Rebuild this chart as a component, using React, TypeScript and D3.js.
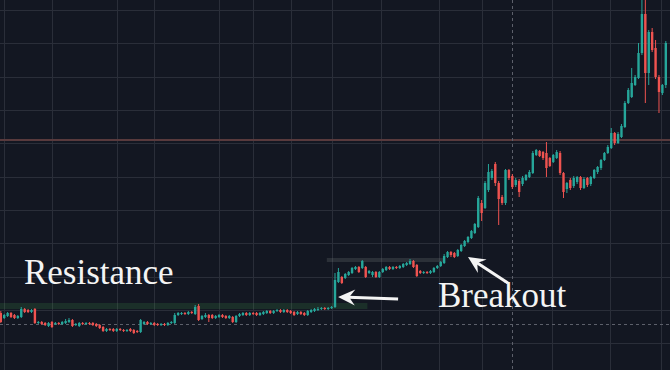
import React, { useEffect, useRef } from 'react';
import * as d3 from 'd3';

// OHLC, one entry per daily candle
const opens = [
  4910, 4760, 4820, 4910, 4850, 4760, 4790, 5030, 5000, 4940,
  5030, 4610, 4640, 4610, 4520, 4640, 4580, 4610, 4580, 4610,
  4640, 4700, 4550, 4520, 4610, 4580, 4610, 4610, 4580, 4550,
  4490, 4370, 4430, 4430, 4370, 4430, 4400, 4370, 4430, 4400,
  4370, 4340, 4580, 4640, 4580, 4610, 4580, 4550, 4580, 4550,
  4610, 4610, 4850, 4880, 4910, 4880, 4940, 4880, 5120, 4730,
  4790, 4850, 4850, 4760, 4790, 4850, 4820, 4760, 4790, 4640,
  4820, 4850, 4910, 4850, 4910, 4910, 4850, 4880, 4910, 4970,
  4910, 4970, 5000, 4940, 5000, 4970, 4940, 4880, 4940, 4910,
  4850, 4940, 4970, 5000, 5030, 5060, 5030, 5060, 5090, 5840,
  5990, 5960, 6050, 6110, 6230, 6290, 6260, 6290, 6110, 6050,
  6140, 5990, 6140, 6200, 6290, 6230, 6290, 6260, 6290, 6350,
  6380, 6470, 6350, 6170, 6110, 6140, 6110, 6140, 6260, 6320,
  6410, 6590, 6740, 6710, 6620, 6770, 6920, 7040, 7160, 7310,
  7490, 8210, 8060, 8600, 8960, 9380, 8810, 8390, 8210, 9200,
  9020, 8750, 8870, 8780, 8900, 8990, 9110, 9650, 9770, 9740,
  9710, 9560, 9440, 9560, 9710, 9110, 8630, 8900, 8720, 8840,
  8990, 8660, 8960, 8780, 8960, 9140, 9260, 9500, 9710, 9860,
  10310, 10010, 10190, 10490, 11210, 11390, 11750, 11960, 12710, 13880,
  12110, 13340, 12860, 11990, 11510, 11750,
];
const highs = [
  4970, 4880, 4940, 4940, 4880, 4850, 5090, 5060, 5030, 5030,
  5060, 4670, 4670, 4640, 4640, 4670, 4640, 4640, 4670, 4730,
  4760, 4730, 4610, 4640, 4640, 4640, 4640, 4640, 4610, 4580,
  4520, 4460, 4460, 4460, 4460, 4460, 4430, 4430, 4460, 4430,
  4400, 4730, 4670, 4670, 4640, 4640, 4610, 4610, 4610, 4640,
  4670, 4910, 4940, 4940, 4940, 4970, 4970, 5150, 5180, 4850,
  4910, 4880, 4880, 4850, 4880, 4880, 4850, 4850, 4820, 4850,
  4910, 4940, 4940, 4940, 4940, 4940, 4940, 4970, 5000, 5000,
  5000, 5030, 5030, 5030, 5030, 5000, 4970, 4970, 4970, 4940,
  5000, 5030, 5060, 5090, 5090, 5090, 5090, 5120, 6110, 6260,
  6020, 6110, 6170, 6290, 6320, 6320, 6500, 6320, 6200, 6170,
  6170, 6170, 6260, 6320, 6320, 6320, 6320, 6350, 6410, 6440,
  6530, 6500, 6380, 6200, 6170, 6170, 6200, 6290, 6350, 6470,
  6680, 6770, 6770, 6740, 6830, 6980, 7100, 7220, 7400, 7610,
  8420, 8300, 8870, 9380, 9230, 9440, 8870, 8450, 9230, 9230,
  9080, 8960, 8930, 9020, 9080, 9200, 9770, 9830, 9800, 9770,
  10040, 9590, 9680, 9800, 9770, 9140, 8840, 8960, 9020, 9020,
  9020, 8990, 8990, 9020, 9230, 9320, 9530, 9740, 9950, 10460,
  10340, 10340, 10580, 11270, 11660, 12260, 12050, 13010, 14450, 14450,
  13400, 13460, 13100, 12050, 11780, 13070,
];
const lows = [
  4610, 4730, 4790, 4760, 4730, 4730, 4760, 4910, 4910, 4910,
  4580, 4580, 4550, 4520, 4490, 4460, 4550, 4550, 4550, 4580,
  4610, 4490, 4520, 4490, 4550, 4550, 4550, 4520, 4490, 4430,
  4340, 4340, 4370, 4340, 4340, 4370, 4340, 4340, 4340, 4280,
  4310, 4310, 4550, 4550, 4550, 4520, 4520, 4520, 4520, 4520,
  4580, 4580, 4820, 4850, 4850, 4850, 4880, 4850, 4670, 4700,
  4760, 4640, 4730, 4730, 4760, 4760, 4730, 4730, 4610, 4610,
  4790, 4820, 4820, 4820, 4850, 4820, 4820, 4850, 4880, 4880,
  4880, 4940, 4910, 4910, 4910, 4880, 4820, 4850, 4850, 4820,
  4820, 4910, 4940, 4970, 5000, 5000, 5000, 5030, 5060, 5810,
  5780, 5930, 6020, 6080, 6200, 6110, 6230, 5960, 6080, 5990,
  5960, 5960, 6110, 6170, 6200, 6200, 6230, 6230, 6260, 6320,
  6350, 6260, 5990, 6080, 6080, 6080, 6080, 6110, 6230, 6290,
  6380, 6560, 6590, 6560, 6590, 6740, 6890, 7010, 7130, 7280,
  7460, 7670, 8030, 8540, 8900, 8720, 7550, 8150, 8150, 8900,
  8630, 8690, 8390, 8720, 8870, 8960, 9080, 9620, 9590, 9500,
  8990, 9290, 9410, 9530, 9050, 8360, 8510, 8600, 8660, 8780,
  8600, 8630, 8690, 8720, 8930, 9080, 9200, 9470, 9680, 9830,
  9950, 9980, 10160, 10460, 11180, 11360, 11720, 11930, 12650, 11210,
  11750, 12740, 11930, 10910, 11450, 11660,
];
const closes = [
  4640, 4850, 4910, 4790, 4760, 4820, 5030, 4940, 4940, 5000,
  4610, 4640, 4580, 4550, 4610, 4490, 4610, 4580, 4640, 4670,
  4700, 4520, 4580, 4610, 4580, 4610, 4580, 4550, 4520, 4460,
  4370, 4430, 4400, 4370, 4430, 4400, 4370, 4400, 4370, 4310,
  4340, 4700, 4640, 4580, 4610, 4550, 4550, 4580, 4550, 4610,
  4640, 4850, 4910, 4910, 4880, 4940, 4910, 5090, 4700, 4820,
  4850, 4760, 4760, 4820, 4850, 4790, 4760, 4820, 4640, 4820,
  4880, 4910, 4850, 4910, 4880, 4850, 4910, 4940, 4970, 4910,
  4970, 5000, 4940, 5000, 4940, 4910, 4850, 4940, 4880, 4850,
  4970, 5000, 5030, 5030, 5060, 5030, 5060, 5090, 5900, 6140,
  5810, 6080, 6140, 6260, 6290, 6140, 6470, 5990, 6170, 6140,
  5990, 6140, 6230, 6290, 6230, 6290, 6260, 6320, 6380, 6410,
  6470, 6290, 6020, 6110, 6140, 6110, 6170, 6260, 6320, 6440,
  6620, 6740, 6650, 6590, 6800, 6950, 7070, 7190, 7370, 7580,
  8360, 7910, 8810, 9140, 9170, 8810, 8330, 8210, 9200, 8960,
  8690, 8900, 8540, 8960, 9050, 9140, 9710, 9800, 9620, 9560,
  9260, 9320, 9650, 9740, 9110, 8540, 8810, 8660, 8960, 8990,
  8660, 8930, 8750, 8990, 9200, 9290, 9500, 9710, 9890, 10310,
  10010, 10280, 10520, 11210, 11600, 11810, 11990, 12710, 13880, 12110,
  13340, 12800, 11990, 11540, 11750, 13010,
];

const priceTicks = [4000, 5000, 6000, 7000, 8000, 9000, 10000, 11000, 12000, 13000, 14000];
// time grid lines, in candle index units
const timeTicks = [1, 15, 34, 45, 64, 74, 85, 97, 111.5, 128.5, 141, 161.5, 178.5, 193.5];

const crossIndex = 150;
const crossPrice = 4580;
const levelPrice = 10100;

// support / resistance boxes
const zoneStart = [-1, 95.6];
const zoneEnd = [107.5, 129.7];
const zoneLow = [5030, 6440];
const zoneHigh = [5210, 6560];

const labels = ['Resistance', 'Breakout'];
const labelIndex = [6.8, 128.2];
const labelPrice = [5780, 5100];

const arrowTailIndex = [116.5, 148.7];
const arrowTailPrice = [5330, 5810];
const arrowTipIndex = [98.9, 137];
const arrowTipPrice = [5390, 6590];

const W = 670;
const H = 370;

export default function App() {
  const svgRef = useRef<SVGSVGElement>(null);

  useEffect(() => {
    const svg = d3.select(svgRef.current);
    svg.selectAll('*').remove();

    const x = d3.scaleLinear().domain([0, closes.length - 1]).range([0.8, 665.8]);
    const y = d3.scaleLinear().domain([3200, 14300]).range([H, 0]);

    svg.append('rect').attr('width', W).attr('height', H).attr('fill', '#131722');

    // grid
    svg.append('g')
      .selectAll('line')
      .data(priceTicks)
      .join('line')
      .attr('x1', 0)
      .attr('x2', W)
      .attr('y1', d => Math.round(y(d)) + 0.5)
      .attr('y2', d => Math.round(y(d)) + 0.5)
      .attr('stroke', '#2a2e39');

    svg.append('g')
      .selectAll('line')
      .data(timeTicks)
      .join('line')
      .attr('x1', d => Math.round(x(d)) + 0.5)
      .attr('x2', d => Math.round(x(d)) + 0.5)
      .attr('y1', 0)
      .attr('y2', H)
      .attr('stroke', '#2a2e39');

    // zones
    svg.append('g')
      .selectAll('rect')
      .data(d3.range(zoneStart.length))
      .join('rect')
      .attr('x', i => x(zoneStart[i]))
      .attr('width', i => x(zoneEnd[i]) - x(zoneStart[i]))
      .attr('y', i => y(zoneHigh[i]))
      .attr('height', i => y(zoneLow[i]) - y(zoneHigh[i]))
      .attr('fill', (_, k) => (k === 0 ? 'rgba(76,175,80,0.16)' : 'rgba(140,150,145,0.2)'));

    // horizontal level
    svg.append('line')
      .attr('x1', 0)
      .attr('x2', W)
      .attr('y1', y(levelPrice))
      .attr('y2', y(levelPrice))
      .attr('stroke', '#583a3d')
      .attr('stroke-width', 2);

    // crosshair
    svg.append('line')
      .attr('x1', 0)
      .attr('x2', W)
      .attr('y1', Math.round(y(crossPrice)) + 0.5)
      .attr('y2', Math.round(y(crossPrice)) + 0.5)
      .attr('stroke', '#5d606b')
      .attr('stroke-dasharray', '3,3');
    svg.append('line')
      .attr('x1', Math.round(x(crossIndex)) + 0.5)
      .attr('x2', Math.round(x(crossIndex)) + 0.5)
      .attr('y1', 0)
      .attr('y2', H)
      .attr('stroke', '#5d606b')
      .attr('stroke-dasharray', '3,3');

    // candles
    const idx = d3.range(closes.length);
    const col = (i: number) => (closes[i] >= opens[i] ? '#26a69a' : '#ef5350');
    const cg = svg.append('g');
    cg.selectAll('line')
      .data(idx)
      .join('line')
      .attr('x1', i => x(i))
      .attr('x2', i => x(i))
      .attr('y1', i => y(highs[i]))
      .attr('y2', i => y(lows[i]))
      .attr('stroke', col)
      .attr('stroke-width', 1);
    cg.selectAll('rect')
      .data(idx)
      .join('rect')
      .attr('x', i => x(i) - 1.2)
      .attr('width', 2.4)
      .attr('y', i => y(Math.max(opens[i], closes[i])))
      .attr('height', i => Math.max(1, Math.abs(y(opens[i]) - y(closes[i]))))
      .attr('fill', col);

    // annotations
    svg.append('g')
      .selectAll('text')
      .data(labels)
      .join('text')
      .attr('x', (_, i) => x(labelIndex[i]))
      .attr('y', (_, i) => y(labelPrice[i]))
      .attr('fill', '#f4f4f4')
      .style('font-family', '"Liberation Serif", "DejaVu Serif", serif')
      .style('font-size', '35px')
      .text(d => d);

    const ag = svg.append('g');
    arrowTipIndex.forEach((_, i) => {
      const tx = x(arrowTipIndex[i]);
      const ty = y(arrowTipPrice[i]);
      const sx = x(arrowTailIndex[i]);
      const sy = y(arrowTailPrice[i]);
      const len = Math.hypot(sx - tx, sy - ty);
      const ux = (sx - tx) / len;
      const uy = (sy - ty) / len;
      const nx = -uy;
      const ny = ux;
      const L = 17;
      const hw = 8;
      ag.append('line')
        .attr('x1', sx)
        .attr('y1', sy)
        .attr('x2', tx + ux * L * 0.6)
        .attr('y2', ty + uy * L * 0.6)
        .attr('stroke', '#f4f4f4')
        .attr('stroke-width', 3);
      const p = d3.path();
      p.moveTo(tx, ty);
      p.lineTo(tx + ux * L + nx * hw, ty + uy * L + ny * hw);
      p.lineTo(tx + ux * L * 0.65, ty + uy * L * 0.65);
      p.lineTo(tx + ux * L - nx * hw, ty + uy * L - ny * hw);
      p.closePath();
      ag.append('path').attr('d', p.toString()).attr('fill', '#f4f4f4');
    });
  }, []);

  return (
    <div style={{ width: W, height: H }}>
      <style>{'body { margin: 0; }'}</style>
      <svg ref={svgRef} width={W} height={H} style={{ display: 'block' }}></svg>
    </div>
  );
}
